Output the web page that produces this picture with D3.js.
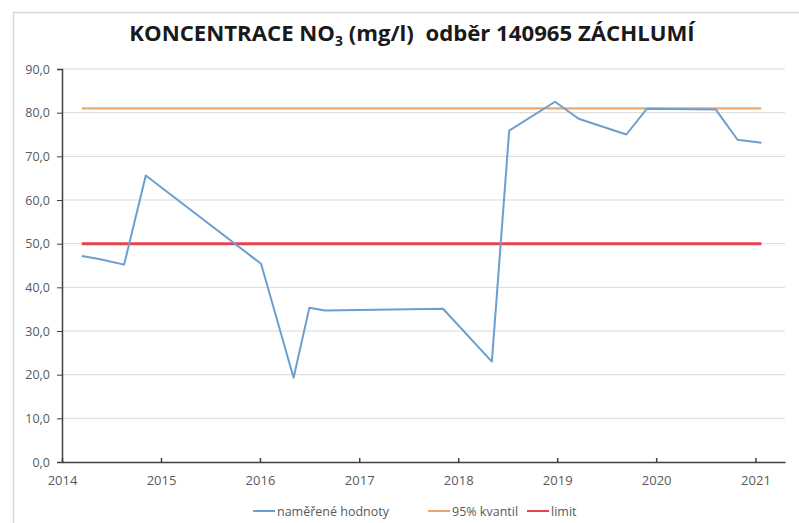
<!DOCTYPE html>
<html>
<head>
<meta charset="utf-8">
<script src="https://cdn.jsdelivr.net/npm/d3@7"></script>
<style>
  body { margin: 0; background: #fff; }
  text { font-family: "Open Sans", sans-serif; }
</style>
</head>
<body>
<div id="chart"></div>
<script>
// measured samples
const dates = [
  "2014-03-15", "2014-05-18", "2014-08-18", "2014-11-06", "2016-01-05",
  "2016-05-04", "2016-07-01", "2016-08-28", "2017-11-06", "2018-05-05",
  "2018-07-08", "2018-12-24", "2019-03-21", "2019-09-13", "2019-11-28",
  "2020-08-08", "2020-10-27", "2021-01-23"
]
const values = [
  47.2, 46.5, 45.2, 65.6, 45.4,
  19.3, 35.3, 34.7, 35.1, 23.0,
  75.9, 82.5, 78.6, 75.0, 80.9,
  80.7, 73.8, 73.1
]
const quantil = dates.map(() => 81.0)
const limit = dates.map(() => 50.0)

const yTicks = [0, 10, 20, 30, 40, 50, 60, 70, 80, 90]
const xTicks = ["2014", "2015", "2016", "2017", "2018", "2019", "2020", "2021"]
const xDomain = ["2014-01-01", "2021-04-20"]

const seriesNames = ["naměřené hodnoty", "95% kvantil", "limit"]
const colors = ["#6c9fcf", "#efa86c", "#e8434f"]

const width = 799
const height = 523
const margin = { top: 69, right: 14, bottom: 61, left: 62 }
const innerW = 785 - margin.left
const innerH = 462 - margin.top

const parse = d3.timeParse("%Y-%m-%d")

const svg = d3.select("#chart").append("svg")
  .attr("width", width)
  .attr("height", height)

// chart area border
svg.append("rect")
  .attr("x", 13.5).attr("y", 12.5)
  .attr("width", 820).attr("height", 540)
  .attr("fill", "none")
  .attr("stroke", "#d9d9d9")
  .attr("stroke-width", 1.5)

// title, NO3 with subscript
const title = svg.append("text")
  .attr("x", 412)
  .attr("y", 41)
  .attr("text-anchor", "middle")
  .attr("font-weight", "bold")
  .attr("font-size", 22)
  .attr("fill", "#1a1a1a")
  .attr("xml:space", "preserve")
title.append("tspan").text("KONCENTRACE NO")
title.append("tspan").text("3").attr("font-size", 14).attr("dy", 5)
title.append("tspan").text(" (mg/l)  odběr 140965 ZÁCHLUMÍ").attr("dy", -5)
// fit to reference width
const tw = title.node().getComputedTextLength()
const fs = 22 * 566 / tw
title.attr("font-size", fs)
title.select("tspan:nth-child(2)").attr("font-size", fs * 0.62)

const g = svg.append("g")
  .attr("transform", `translate(${margin.left},${margin.top})`)

const x = d3.scaleTime()
  .domain(xDomain.map(parse))
  .range([0, innerW])

const y = d3.scaleLinear()
  .domain([0, 90])
  .range([innerH, 0])

// gridlines
g.append("g")
  .selectAll("line")
  .data(yTicks.filter(d => d > 0))
  .join("line")
  .attr("x1", 0)
  .attr("x2", innerW)
  .attr("y1", d => y(d))
  .attr("y2", d => y(d))
  .attr("stroke", "#d9d9d9")
  .attr("stroke-width", 1)

// y axis
const yAxis = g.append("g")
  .call(d3.axisLeft(y)
    .tickValues(yTicks)
    .tickSize(5)
    .tickPadding(7)
    .tickFormat(d => d3.format(".1f")(d).replace(".", ",")))
yAxis.select(".domain").attr("stroke", "#404040").attr("stroke-width", 1.5)
yAxis.selectAll(".tick line").attr("stroke", "#404040")
yAxis.selectAll("text")
  .attr("font-size", 12.5)
  .attr("fill", "#595959")

// x axis
const xAxis = g.append("g")
  .attr("transform", `translate(0,${innerH})`)
  .call(d3.axisBottom(x)
    .tickValues(xTicks.map(d => parse(d + "-01-01")))
    .tickSizeInner(-4)
    .tickSizeOuter(0)
    .tickPadding(14)
    .tickFormat(d3.timeFormat("%Y")))
xAxis.select(".domain").attr("stroke", "#404040").attr("stroke-width", 1.5)
xAxis.selectAll(".tick line").attr("stroke", "#404040").attr("stroke-width", 1.5)
xAxis.selectAll("text")
  .attr("font-size", 13)
  .attr("fill", "#595959")

const line = d3.line()
  .x((d, i) => x(parse(dates[i])))
  .y(d => y(d))

g.append("path")
  .datum(limit)
  .attr("d", line)
  .attr("fill", "none")
  .attr("stroke", colors[2])
  .attr("stroke-width", 3)

g.append("path")
  .datum(quantil)
  .attr("d", line)
  .attr("fill", "none")
  .attr("stroke", colors[1])
  .attr("stroke-width", 2.2)

g.append("path")
  .datum(values)
  .attr("d", line)
  .attr("fill", "none")
  .attr("stroke", colors[0])
  .attr("stroke-width", 2)
  .attr("stroke-linejoin", "round")

// legend
const legendX = [253, 428, 527]
const legend = svg.append("g")
  .selectAll("g")
  .data(seriesNames)
  .join("g")
  .attr("transform", (d, i) => `translate(${legendX[i]},511)`)

legend.append("line")
  .attr("x1", 0).attr("x2", 22)
  .attr("stroke", (d, i) => colors[i])
  .attr("stroke-width", 2)

legend.append("text")
  .attr("x", 24)
  .attr("y", 5)
  .attr("font-size", 12.5)
  .attr("fill", "#595959")
  .text(d => d)
</script>
</body>
</html>
